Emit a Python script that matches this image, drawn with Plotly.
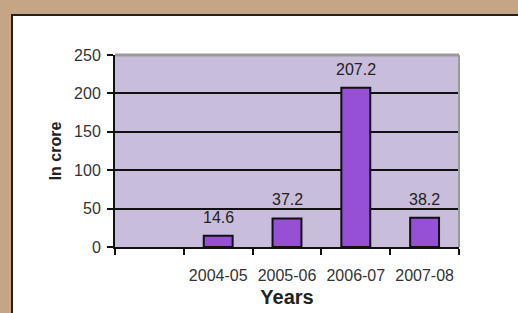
import plotly.graph_objects as go

categories = [" ", "2004-05", "2005-06", "2006-07", "2007-08"]
values = [None, 14.6, 37.2, 207.2, 38.2]
labels = ["", "14.6", "37.2", "207.2", "38.2"]
y_ticks = [0, 50, 100, 150, 200, 250]

W, H = 518, 313
L, R, T, B = 115, 59, 55, 66
pw, ph = W - L - R, H - T - B

def px(x):
    return (x - L) / pw

def py(y):
    return (H - B - y) / ph

FONT = "Liberation Sans, Arial"

fig = go.Figure()
fig.add_trace(go.Bar(
    x=categories, y=values,
    marker=dict(color="#9550d6", line=dict(color="#111", width=2)),
    width=0.42,
))

annotations = [
    dict(x=c, y=v, xref="x", yref="y", text=t, showarrow=False, yanchor="bottom",
         yshift=8, font=dict(family=FONT, size=16, color="#222"))
    for c, v, t in zip(categories, values, labels) if v is not None
]

tan = "#c6a587"
shapes = [
    dict(type="rect", xref="paper", yref="paper", x0=px(-5), x1=px(12), y0=py(320), y1=py(-5),
         fillcolor=tan, line=dict(width=0), layer="below"),
    dict(type="rect", xref="paper", yref="paper", x0=px(-5), x1=px(525), y0=py(15), y1=py(-5),
         fillcolor=tan, line=dict(width=0), layer="below"),
    dict(type="line", xref="paper", yref="paper", x0=px(12), x1=px(12), y0=py(14), y1=py(320),
         line=dict(color="#222", width=2), layer="below"),
    dict(type="line", xref="paper", yref="paper", x0=px(11), x1=px(525), y0=py(15), y1=py(15),
         line=dict(color="#222", width=2), layer="below"),
    dict(type="line", xref="paper", yref="paper", x0=0, x1=1, y0=1, y1=1,
         line=dict(color="#9a9a9a", width=3), layer="above"),
    dict(type="line", xref="paper", yref="paper", x0=1, x1=1, y0=0, y1=1,
         line=dict(color="#9a9a9a", width=2), layer="above"),
]

fig.update_layout(
    width=W, height=H,
    margin=dict(l=L, r=R, t=T, b=B),
    paper_bgcolor="white",
    plot_bgcolor="#c9bddc",
    showlegend=False,
    shapes=shapes,
    annotations=annotations,
    font=dict(family=FONT, size=16, color="#333"),
    xaxis=dict(
        type="category", categoryorder="array", categoryarray=categories,
        tickson="boundaries", ticks="outside", ticklen=6, tickwidth=2, tickcolor="#111",
        showline=True, linecolor="#111", linewidth=2, showgrid=False, tickangle=0,
        tickfont=dict(size=16, color="#333"), ticklabelstandoff=13, automargin=False,
        title=dict(text="<b>Years</b>", font=dict(size=20, color="#222"), standoff=7),
    ),
    yaxis=dict(
        range=[0, 250], tickvals=y_ticks, ticks="outside", ticklen=6, tickwidth=2,
        tickcolor="#111", showline=True, linecolor="#111", linewidth=2,
        showgrid=True, gridcolor="#111", gridwidth=2, zeroline=False,
        tickfont=dict(size=16, color="#333"), ticklabelstandoff=3, automargin=False,
        title=dict(text="<b>In crore</b>", font=dict(size=16, color="#222"), standoff=8),
    ),
)

fig.write_html("out.html", config={"displayModeBar": False},
               post_script="document.body.style.margin='0';")
